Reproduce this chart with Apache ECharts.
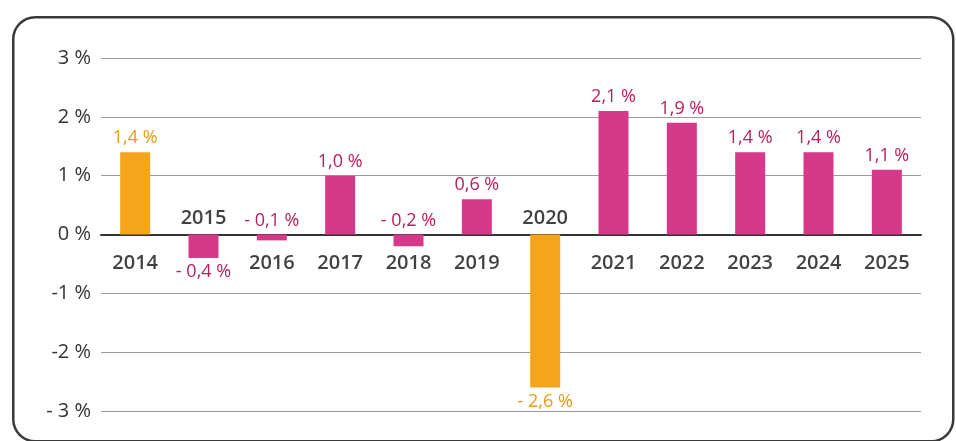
<!DOCTYPE html>
<html><head><meta charset="utf-8">
<script src="https://cdn.jsdelivr.net/npm/echarts@6/dist/echarts.min.js"></script>
<style>html,body{margin:0;padding:0;background:#fff;}#c{width:956px;height:441px;}</style>
</head><body><div id="c"></div>
<script>
var years = ['2014','2015','2016','2017','2018','2019','2020','2021','2022','2023','2024','2025'];
var growth = [1.4, -0.4, -0.1, 1.0, -0.2, 0.6, -2.6, 2.1, 1.9, 1.4, 1.4, 1.1];
var highlightYears = ['2014','2020'];
var valueLabelSide = ['top','bottom','top','top','top','top','bottom','top','top','top','top','top'];
var yearLabelSide = ['below','above','below','below','below','below','above','below','below','below','below','below'];
var yTickLabels = {'-3':'- 3 %','-2':'-2 %','-1':'-1 %','0':'0 %','1':'1 %','2':'2 %','3':'3 %'};

var PINK = '#d6388a', PINK_TXT = '#b81d5c', ORANGE = '#f5a51c', ORANGE_TXT = '#e99a1a';
function fmt(v){ var s = Math.abs(v).toFixed(1).replace('.', ','); return (v < 0 ? '- ' : '') + s + ' %'; }

var chart = echarts.init(document.getElementById('c'), null, {renderer:'canvas'});
var barData = growth.map(function(v,i){
  var hl = highlightYears.indexOf(years[i]) >= 0;
  return {
    value: v,
    itemStyle: {color: hl ? ORANGE : PINK},
    label: {position: valueLabelSide[i], color: hl ? ORANGE_TXT : PINK_TXT}
  };
});
var yearData = years.map(function(y,i){
  var above = yearLabelSide[i] === 'above';
  return {
    value: [y, 0],
    label: {position: above ? 'top' : 'bottom', distance: above ? 6 : 18}
  };
});
chart.setOption({
  animation: false,
  graphic: [{
    type: 'rect', left: 12, top: 16, z: -1,
    shape: {width: 940, height: 424, r: 22},
    style: {fill: '#fff', stroke: '#3a3a3a', lineWidth: 2.5}
  }],
  grid: {left: 101, right: 35, top: 58, bottom: 30},
  xAxis: {
    type: 'category', data: years,
    axisLine: {onZero: true, lineStyle: {color: '#333', width: 2}},
    axisTick: {show: false}, axisLabel: {show: false}, splitLine: {show: false}
  },
  yAxis: {
    type: 'value', min: -3, max: 3, interval: 1,
    axisLine: {show: false}, axisTick: {show: false},
    axisLabel: {
      formatter: function(v){ return yTickLabels[String(v)]; },
      fontFamily: 'Open Sans', fontSize: 20, color: '#333', margin: 10
    },
    splitLine: {lineStyle: {color: '#9a9a9a', width: 1}}
  },
  series: [{
    type: 'bar', data: barData, barWidth: 30, z: 2,
    label: {show: true, distance: 5, fontFamily: 'Open Sans', fontSize: 18,
      formatter: function(p){ return fmt(p.value); }}
  }, {
    type: 'scatter', data: yearData, symbolSize: 1, silent: true, z: 3,
    itemStyle: {color: 'rgba(0,0,0,0)'},
    label: {show: true, fontFamily: 'Open Sans', fontWeight: 600, fontSize: 20, color: '#111',
      formatter: function(p){ return p.value[0]; }}
  }]
});
</script></body></html>
